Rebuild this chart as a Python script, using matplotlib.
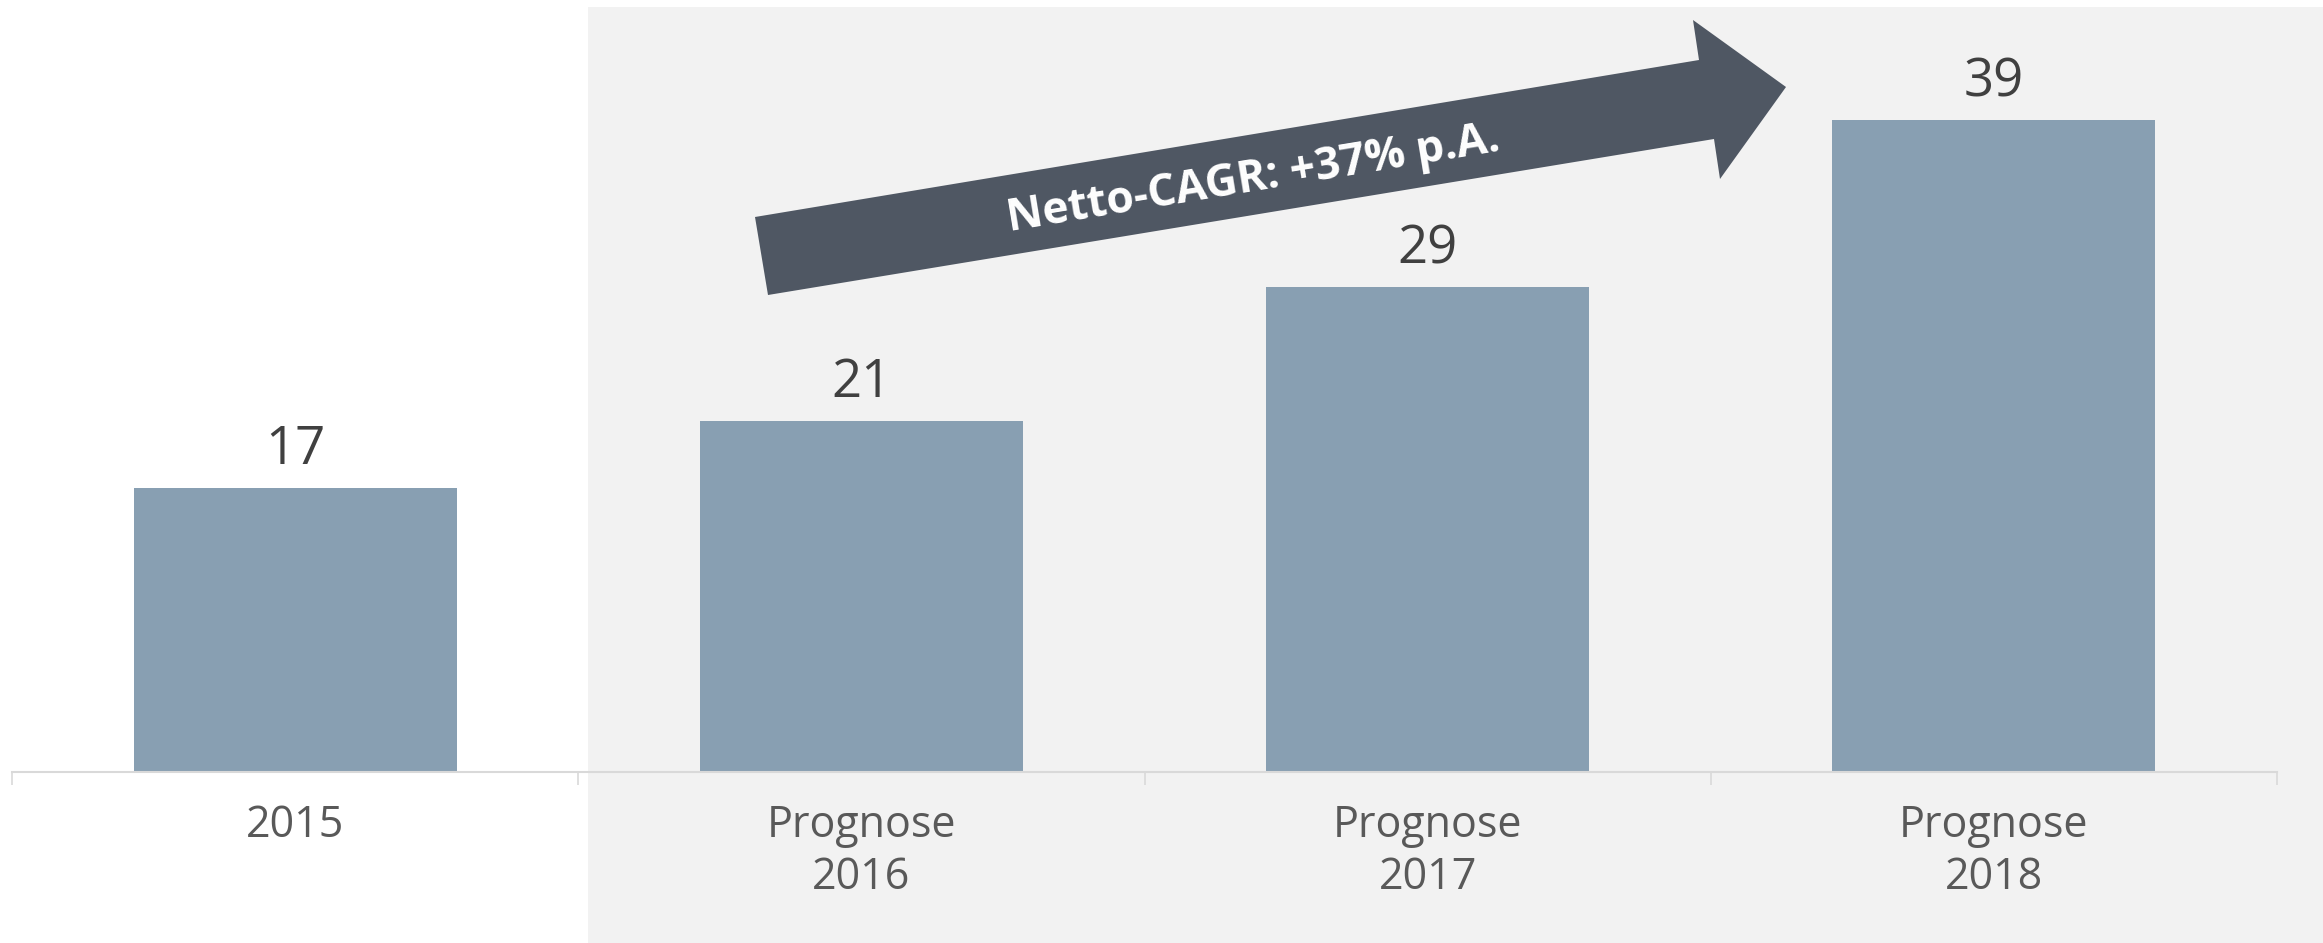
import matplotlib.pyplot as plt
from matplotlib.patches import Rectangle, Polygon

plt.rcParams['font.family'] = ['Open Sans', 'DejaVu Sans']

# chart data
categories = ['2015', 'Prognose\n2016', 'Prognose\n2017', 'Prognose\n2018']
values = [17, 21, 29, 39]
value_labels = ['17', '21', '29', '39']
cagr_text = 'Netto-CAGR: +37% p.A.'

W, H = 2323, 943
fig = plt.figure(figsize=(W / 100, H / 100), dpi=100)
fig.patch.set_facecolor('white')


def fpx(x, y):
    # pixel position (from top-left) -> figure fraction
    return (x / W, 1 - y / H)


# shaded forecast area
fig.add_artist(Rectangle((588 / W, 0), 1 - 588 / W, (H - 7) / H,
                         transform=fig.transFigure, facecolor='#f2f2f2',
                         edgecolor='none', zorder=-1))

ax = fig.add_axes([12 / W, 171 / H, 2265 / W, 752 / H])
ax.set_facecolor('none')
x = range(len(values))
bars = ax.bar(x, values, width=0.57, color='#889fb2', zorder=2)

for i, (v, lab) in enumerate(zip(values, value_labels)):
    ax.annotate(lab, (i, v), xytext=(0, 17), textcoords='offset points',
                ha='center', va='baseline', fontsize=38, color='#404040')

ax.set_xlim(-0.5, 3.5)
ax.set_ylim(0, 45)
ax.set_yticks([])
ax.set_xticks(list(x), categories)
ax.set_xticks([-0.5, 0.5, 1.5, 2.5, 3.5], minor=True)
ax.tick_params(axis='x', which='major', length=0, pad=23, labelsize=31,
               labelcolor='#595959')
ax.tick_params(axis='x', which='minor', length=9.5, width=1.2, color='#d9d9d9')
for s in ['top', 'left', 'right']:
    ax.spines[s].set_visible(False)
ax.spines['bottom'].set_color('#d9d9d9')
ax.spines['bottom'].set_linewidth(1.5)

# growth arrow
arrow_pts = [fpx(755, 217), fpx(1699, 60), fpx(1693, 20), fpx(1786, 87),
             fpx(1720, 179), fpx(1714, 139), fpx(768, 295)]
fig.add_artist(Polygon(arrow_pts, closed=True, transform=fig.transFigure,
                       facecolor='#4f5763', edgecolor='none', zorder=3))
tx, ty = fpx(1255, 191)
fig.text(tx, ty, cagr_text, ha='center', va='baseline', rotation=9.3,
         rotation_mode='anchor', fontsize=32, fontweight='bold',
         color='white', zorder=4)

fig.savefig('out.png', dpi=100)
